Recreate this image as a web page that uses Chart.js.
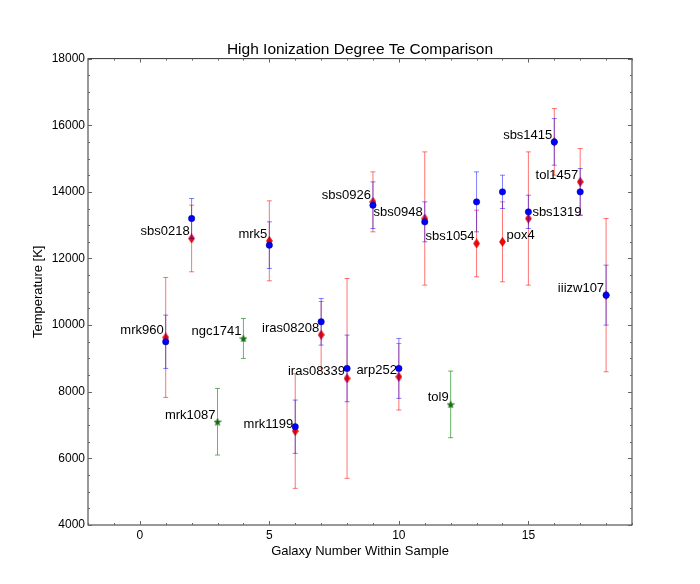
<!DOCTYPE html>
<html>
<head>
<meta charset="utf-8">
<script src="https://cdn.jsdelivr.net/npm/chart.js@4.4.1/dist/chart.umd.min.js"></script>
<style>
  body { margin: 0; background: #fff; }
</style>
</head>
<body>
<canvas id="grafico" width="700" height="584"></canvas>
<script>
// galaxies 1..18 in sample order
const galaxyNames = ["mrk960", "sbs0218", "mrk1087", "ngc1741", "mrk5", "mrk1199", "iras08208", "iras08339", "sbs0926",
  "arp252", "sbs0948", "tol9", "sbs1054", "pox4", "sbs1319", "sbs1415", "tol1457", "iiizw107"];
const labelsOnRight = ["pox4", "sbs1319"];

// galaxies with two Te measurements
const pairX = [1, 2, 5, 6, 7, 8, 9, 10, 11, 13, 14, 15, 16, 17, 18];
const blueTe = [9500, 13200, 12400, 6950, 10100, 8700, 13600, 8700, 13100, 13700, 14000, 13400, 15500, 14000, 10900];
const blueErr = [800, 600, 700, 800, 700, 1000, 700, 900, 600, 900, 500, 500, 700, 700, 900];
const redTe = [9630, 12600, 12530, 6820, 9710, 8400, 13700, 8450, 13200, 12450, 12500, 13200, 15500, 14300, 10900];
const redErr = [1800, 1000, 1200, 1720, 1000, 3000, 900, 1000, 2000, 1000, 1200, 2000, 1000, 1000, 2300];

// galaxies with a single measurement
const starX = [3, 4, 12];
const starTe = [7100, 9600, 7620];
const starErr = [1000, 600, 1000];

const yTicks = [4000, 6000, 8000, 10000, 12000, 14000, 16000, 18000];
const xTicks = [0, 5, 10, 15];

const FONT = "'Liberation Sans', Arial, sans-serif";

// marker shapes
function thinDiamond(w, h, fill, edge) {
  const c = document.createElement("canvas");
  c.width = w; c.height = h;
  const g = c.getContext("2d");
  g.beginPath();
  g.moveTo(w / 2, 0.5);
  g.lineTo(w - 0.5, h / 2);
  g.lineTo(w / 2, h - 0.5);
  g.lineTo(0.5, h / 2);
  g.closePath();
  g.fillStyle = fill;
  g.fill();
  g.strokeStyle = edge;
  g.lineWidth = 0.6;
  g.stroke();
  return c;
}

function star(size, fill, edge) {
  const c = document.createElement("canvas");
  c.width = size; c.height = size;
  const g = c.getContext("2d");
  const cx = size / 2, cy = size / 2, ro = size / 2 - 0.3, ri = ro * 0.42;
  g.beginPath();
  for (let k = 0; k < 10; k++) {
    const r = k % 2 === 0 ? ro : ri;
    const a = -Math.PI / 2 + k * Math.PI / 5;
    const px = cx + r * Math.cos(a), py = cy + r * Math.sin(a) + 0.5;
    if (k === 0) g.moveTo(px, py); else g.lineTo(px, py);
  }
  g.closePath();
  g.fillStyle = fill;
  g.fill();
  g.strokeStyle = edge;
  g.lineWidth = 0.5;
  g.stroke();
  return c;
}

const errorBars = {
  id: "errorBars",
  beforeDatasetDraw(chart, args) {
    const ds = chart.data.datasets[args.index];
    if (!ds.errors) return;
    const { ctx, scales: { x, y } } = chart;
    ctx.save();
    ctx.strokeStyle = ds.errorColor;
    ctx.lineWidth = 1;
    ds.data.forEach((p, i) => {
      const px = x.getPixelForValue(p.x);
      const top = y.getPixelForValue(p.y + ds.errors[i]);
      const bot = y.getPixelForValue(p.y - ds.errors[i]);
      ctx.beginPath();
      ctx.moveTo(px, top); ctx.lineTo(px, bot);
      ctx.moveTo(px - 2.5, top); ctx.lineTo(px + 2.5, top);
      ctx.moveTo(px - 2.5, bot); ctx.lineTo(px + 2.5, bot);
      ctx.stroke();
    });
    ctx.restore();
  },
};

const frameAndNames = {
  id: "frameAndNames",
  afterDatasetsDraw(chart) {
    const { ctx, chartArea: a, scales: { x, y } } = chart;
    ctx.save();
    // box
    ctx.strokeStyle = "#333";
    ctx.lineWidth = 1;
    ctx.strokeRect(a.left, a.top, a.right - a.left, a.bottom - a.top);
    // inward ticks on all four sides
    ctx.strokeStyle = "#666";
    ctx.beginPath();
    for (let v = x.min; v <= x.max; v++) {
      const px = Math.round(x.getPixelForValue(v)) + 0.5;
      const len = v % 5 === 0 ? 4 : 2;
      ctx.moveTo(px, a.bottom); ctx.lineTo(px, a.bottom - len);
      ctx.moveTo(px, a.top); ctx.lineTo(px, a.top + len);
    }
    for (let v = y.min; v <= y.max; v += 500) {
      const py = Math.round(y.getPixelForValue(v)) + 0.5;
      const len = v % 2000 === 0 ? 4 : 2;
      ctx.moveTo(a.left, py); ctx.lineTo(a.left + len, py);
      ctx.moveTo(a.right, py); ctx.lineTo(a.right - len, py);
    }
    ctx.stroke();

    // galaxy names
    ctx.font = "13px " + FONT;
    ctx.fillStyle = "#000";
    ctx.textBaseline = "alphabetic";
    galaxyNames.forEach((name, i) => {
      const gx = i + 1;
      const k = pairX.indexOf(gx);
      const te = k >= 0 ? redTe[k] : starTe[starX.indexOf(gx)];
      const px = x.getPixelForValue(gx);
      const py = y.getPixelForValue(te) - 3;
      if (labelsOnRight.includes(name)) {
        ctx.textAlign = "left";
        ctx.fillText(name, px + 4, py);
      } else {
        ctx.textAlign = "right";
        ctx.fillText(name, px - 2, py);
      }
    });
    ctx.restore();
  },
};

new Chart(document.getElementById("grafico"), {
  type: "scatter",
  data: {
    datasets: [
      {
        label: "blue",
        data: pairX.map((v, i) => ({ x: v, y: blueTe[i] })),
        errors: blueErr,
        errorColor: "rgba(0,0,255,0.5)",
        pointStyle: "circle",
        pointRadius: 3.2,
        backgroundColor: "#0000ff",
        borderColor: "#000080",
        borderWidth: 0.5,
      },
      {
        label: "red",
        data: pairX.map((v, i) => ({ x: v, y: redTe[i] })),
        errors: redErr,
        errorColor: "rgba(255,0,0,0.55)",
        pointStyle: thinDiamond(7, 10, "#ff0000", "#b00000"),
        pointRadius: 4,
      },
      {
        label: "green",
        data: starX.map((v, i) => ({ x: v, y: starTe[i] })),
        errors: starErr,
        errorColor: "rgba(0,128,0,0.6)",
        pointStyle: star(8, "#007a00", "#004000"),
        pointRadius: 4,
      },
    ],
  },
  options: {
    responsive: false,
    animation: false,
    layout: { padding: { left: 0, right: 68, top: 0, bottom: 0 } },
    plugins: {
      legend: { display: false },
      tooltip: { enabled: false },
      title: {
        display: true,
        fullSize: false,
        text: "High Ionization Degree Te Comparison",
        color: "#000",
        font: { family: FONT, size: 15.5, weight: "normal" },
        padding: { top: 40, bottom: 0 },
      },
    },
    scales: {
      x: {
        type: "linear",
        min: -2,
        max: 19,
        afterFit(s) { s.height = 59; },
        afterBuildTicks(s) { s.ticks = xTicks.map((v) => ({ value: v })); },
        grid: { display: false, drawTicks: false },
        border: { display: false },
        ticks: { color: "#000", padding: 3, font: { family: FONT, size: 12 }, maxRotation: 0 },
        title: {
          display: true,
          text: "Galaxy Number Within Sample",
          color: "#000",
          font: { family: FONT, size: 13 },
          padding: { top: 0, bottom: 25 },
        },
      },
      y: {
        type: "linear",
        min: 4000,
        max: 18000,
        afterFit(s) { s.width = 88; },
        afterBuildTicks(s) { s.ticks = yTicks.map((v) => ({ value: v })); },
        grid: { display: false, drawTicks: false },
        border: { display: false },
        ticks: {
          color: "#000",
          padding: 3,
          font: { family: FONT, size: 12 },
          callback: (v) => String(v),
        },
        title: {
          display: true,
          text: "Temperature [K]",
          color: "#000",
          font: { family: FONT, size: 13 },
          padding: { top: 31, bottom: 0 },
        },
      },
    },
  },
  plugins: [errorBars, frameAndNames],
});
</script>
</body>
</html>
